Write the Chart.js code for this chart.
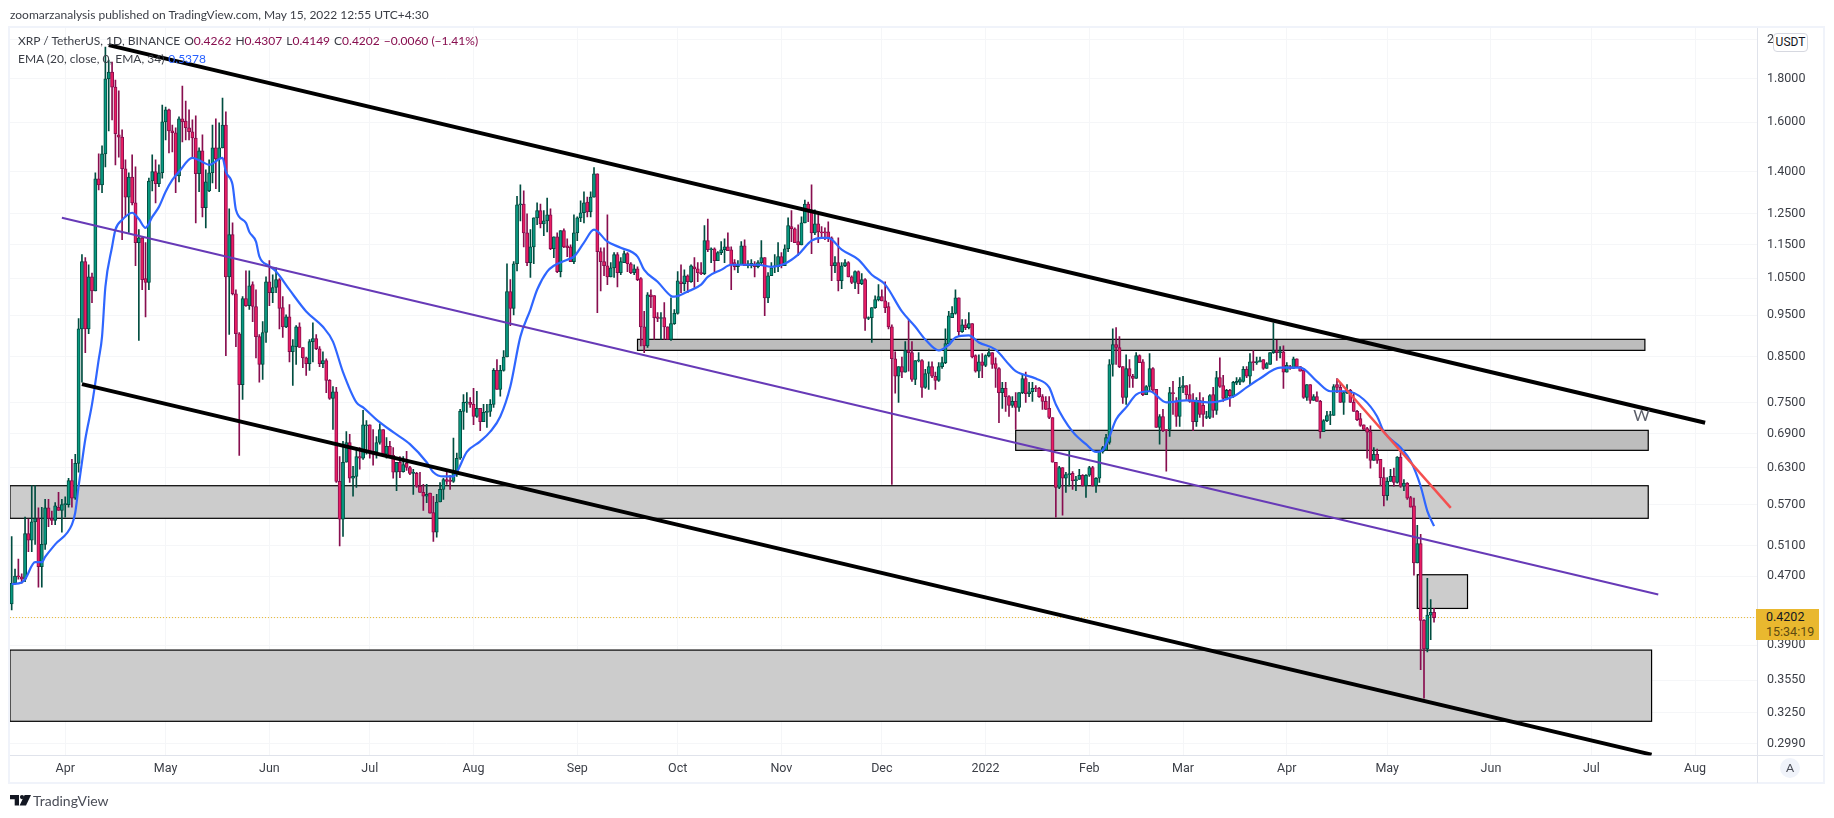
<!DOCTYPE html>
<html><head><meta charset="utf-8">
<script src="https://cdn.jsdelivr.net/npm/chart.js@4"></script>
<style>
html,body{margin:0;padding:0;background:#fff;width:1834px;height:818px;overflow:hidden;font-family:Lato,sans-serif;color:#3b3e46}
canvas{position:absolute;left:0;top:0}
.o{position:absolute;white-space:nowrap}
.r{color:#880e4f}
.g{margin-left:4px}
</style></head><body>
<canvas id="c" width="1834" height="818"></canvas>
<div class="o" style="left:8px;top:26px;width:1817px;height:758px;border:2px solid #f0f3fa;box-sizing:border-box"></div>
<div class="o" style="left:1757px;top:755px;width:66px;height:1px;background:#e0e3eb"></div>
<div class="o" style="left:1757px;top:755px;width:1px;height:28px;background:#e0e3eb"></div>
<div class="o" style="left:10px;top:6px;font-size:12px;line-height:18px;color:#3b3e46">zoomarzanalysis published on TradingView.com, May 15, 2022 12:55 UTC+4:30</div>
<div class="o" style="left:18px;top:32px;font-size:12px;line-height:18px">XRP / TetherUS, 1D, BINANCE<span class="g">O</span><span class="r">0.4262</span><span class="g">H</span><span class="r">0.4307</span><span class="g">L</span><span class="r">0.4149</span><span class="g">C</span><span class="r">0.4202</span><span class="g r">−0.0060 (−1.41%)</span></div>
<div class="o" style="left:18px;top:50px;font-size:12px;line-height:18px">EMA (20, close, 0, EMA, 34)<span class="g" style="color:#2962ff">0.5378</span></div>
<div class="o" style="left:1773px;top:33px;width:35px;height:19px;box-sizing:border-box;border:1px solid #d6d8e0;border-radius:4px;background:#fff;text-align:center;font-size:12px;line-height:17px;color:#131722;font-family:Roboto">USDT</div>
<div class="o" style="left:1756px;top:609px;width:63px;height:31px;background:#e9b82f;font-family:Roboto;font-size:12.5px;line-height:15px;padding:0 0 0 10px;box-sizing:border-box"><div style="color:#131722">0.4202</div><div style="color:#5f4b10">15:34:19</div></div>
<div class="o" style="left:1780px;top:758px;width:20px;height:20px;border-radius:10px;background:#f0f3fa;text-align:center;font-size:12px;line-height:20px;color:#4a4d57">A</div>
<svg class="o" style="left:10px;top:795px" width="21" height="11" viewBox="0 0 21 11"><path d="M0 0h9v10.5H4.7V4.2H0z" fill="#131722"/><circle cx="12" cy="2.1" r="2.1" fill="#131722"/><path d="M14.6 0H21l-5 10.5H9.6z" fill="#131722"/></svg>
<div class="o" style="left:33px;top:791px;font-size:14px;line-height:20px;color:#4a4d57">TradingView</div>
<script>
const firstDay='2021-03-16';
const dayCount=522;
const monthNames={'2021-04-01':'Apr','2021-05-01':'May','2021-06-01':'Jun','2021-07-01':'Jul','2021-08-01':'Aug','2021-09-01':'Sep','2021-10-01':'Oct','2021-11-01':'Nov','2021-12-01':'Dec','2022-01-01':'2022','2022-02-01':'Feb','2022-03-01':'Mar','2022-04-01':'Apr','2022-05-01':'May','2022-06-01':'Jun','2022-07-01':'Jul','2022-08-01':'Aug'};
const priceTicks=[2,1.8,1.6,1.4,1.25,1.15,1.05,.95,.85,.75,.69,.63,.57,.51,.47,.42,.39,.355,.325,.299];
const opens=[
.436,.461,.470,.469,.466,.527,.518,.544,.549,.482,.512,.565,.549,.546,.566,.561,.570,.570,.608,.580,
.637,.916,1.098,.916,1.054,1.015,1.373,1.351,1.469,1.798,1.832,1.759,1.546,1.537,1.411,1.307,1.380,1.287,1.156,1.171,
1.049,1.038,1.365,1.400,1.355,1.396,1.601,1.654,1.563,1.555,1.384,1.614,1.605,1.576,1.559,1.533,1.392,1.481,1.270,1.329,
1.396,1.493,1.449,1.493,1.588,1.054,1.181,1.007,.904,.788,.994,.975,1.032,.973,.897,.832,.907,1.040,1.010,1.024,
1.046,.970,.921,.946,.861,.873,.921,.871,.847,.834,.885,.892,.868,.834,.841,.797,.759,.773,.607,.548,
.639,.674,.612,.615,.649,.646,.705,.707,.658,.657,.674,.698,.653,.667,.651,.622,.639,.623,.637,.630,
.620,.620,.599,.589,.583,.588,.558,.529,.574,.594,.610,.608,.607,.623,.646,.733,.750,.751,.747,.723,
.739,.713,.731,.733,.747,.819,.778,.819,.849,1.013,.968,1.092,1.280,1.283,1.187,1.095,1.143,1.236,1.260,1.216,
1.226,1.246,1.137,1.174,1.069,1.194,1.146,1.143,1.098,1.187,1.236,1.253,1.290,1.256,1.307,1.392,1.128,1.098,1.086,1.054,
1.080,1.119,1.066,1.095,1.122,1.092,1.066,1.077,1.049,.921,.875,1.004,1.002,.946,.942,.944,.921,.890,.929,.955,
1.040,1.035,1.057,1.040,1.083,1.077,1.066,1.063,1.162,1.134,1.137,1.101,1.125,1.134,1.143,1.134,1.095,1.083,1.089,1.146,
1.086,1.086,1.092,1.083,1.095,1.110,.996,1.057,1.083,1.083,1.113,1.086,1.137,1.207,1.200,1.159,1.149,1.219,1.283,1.256,
1.187,1.216,1.190,1.190,1.190,1.171,1.086,1.095,1.043,1.086,1.095,1.054,1.038,1.069,1.035,1.046,.942,.944,.970,.991,
.999,.988,.973,.921,.845,.806,.827,.815,.864,.859,.799,.840,.841,.782,.812,.827,.806,.797,.827,.836,
.880,.944,.955,.996,.909,.926,.919,.929,.852,.817,.838,.830,.852,.859,.834,.823,.771,.780,.763,.745,
.753,.741,.771,.801,.769,.773,.780,.780,.763,.753,.739,.721,.639,.597,.630,.612,.618,.620,.608,.610,
.617,.600,.617,.630,.600,.612,.657,.660,.674,.832,.878,.871,.827,.761,.823,.806,.801,.852,.838,.767,
.784,.823,.778,.702,.723,.698,.698,.771,.753,.723,.782,.786,.767,.753,.713,.755,.745,.721,.721,.767,
.735,.803,.786,.759,.776,.765,.791,.793,.795,.821,.806,.838,.836,.838,.843,.823,.832,.859,.864,.859,
.861,.815,.827,.823,.845,.827,.819,.761,.788,.755,.763,.753,.694,.715,.725,.725,.788,.782,.751,.771,
.776,.751,.733,.719,.707,.700,.694,.642,.653,.644,.613,.584,.607,.615,.605,.648,.599,.604,.581,.568,
.487,.513,.417,.386,.423,.4262];
const closes=[
.461,.470,.469,.466,.527,.518,.544,.549,.482,.512,.565,.549,.546,.568,.561,.570,.571,.608,.580,.637,
.916,1.098,.916,1.054,1.015,1.373,1.351,1.469,1.798,1.832,1.759,1.551,1.537,1.411,1.307,1.380,1.287,1.156,1.171,1.046,
1.038,1.365,1.400,1.355,1.396,1.601,1.654,1.563,1.555,1.384,1.614,1.601,1.576,1.559,1.533,1.392,1.481,1.270,1.362,1.396,
1.493,1.449,1.493,1.588,1.054,1.181,1.007,.904,.788,.994,.975,1.029,.973,.897,.832,.907,1.040,1.010,1.024,1.046,
.968,.921,.946,.861,.875,.921,.871,.847,.834,.885,.892,.868,.834,.841,.797,.759,.773,.607,.548,.639,
.674,.612,.615,.649,.646,.707,.707,.657,.655,.674,.698,.653,.667,.649,.622,.639,.623,.635,.630,.620,
.622,.599,.589,.583,.586,.557,.529,.574,.594,.610,.607,.607,.623,.646,.733,.751,.751,.747,.723,.739,
.713,.731,.733,.747,.819,.778,.819,.849,1.013,.968,1.092,1.280,1.283,1.187,1.095,1.143,1.236,1.260,1.216,1.226,
1.246,1.137,1.174,1.069,1.194,1.143,1.140,1.098,1.187,1.236,1.253,1.287,1.256,1.307,1.392,1.128,1.098,1.086,1.054,1.080,
1.119,1.066,1.098,1.122,1.092,1.066,1.077,1.046,.921,.875,1.004,.999,.944,.942,.944,.921,.890,.929,.955,1.043,
1.035,1.057,1.040,1.086,1.077,1.066,1.063,1.162,1.134,1.137,1.101,1.125,1.134,1.143,1.131,1.089,1.083,1.089,1.146,1.086,
1.092,1.093,1.083,1.095,1.110,.996,1.057,1.080,1.085,1.113,1.086,1.137,1.210,1.200,1.156,1.149,1.219,1.283,1.256,1.187,
1.216,1.190,1.187,1.187,1.171,1.086,1.095,1.043,1.086,1.095,1.054,1.038,1.069,1.035,1.046,.942,.944,.970,.991,.999,
.988,.970,.921,.845,.806,.827,.815,.864,.859,.799,.841,.841,.782,.812,.827,.806,.797,.827,.836,.880,
.949,.955,.996,.909,.926,.919,.929,.849,.817,.838,.830,.852,.859,.832,.823,.771,.780,.763,.745,.753,
.741,.771,.801,.769,.773,.780,.779,.763,.753,.737,.721,.639,.597,.630,.612,.618,.619,.608,.610,.617,
.600,.617,.630,.600,.612,.657,.665,.683,.832,.878,.871,.827,.761,.823,.806,.801,.852,.836,.767,.784,
.823,.776,.702,.723,.696,.696,.771,.769,.723,.782,.786,.767,.753,.713,.755,.727,.727,.722,.765,.735,
.803,.784,.759,.776,.765,.793,.795,.799,.821,.806,.838,.836,.838,.841,.823,.834,.859,.864,.859,.861,
.815,.830,.823,.845,.827,.817,.761,.788,.755,.763,.753,.694,.715,.725,.727,.784,.782,.751,.771,.776,
.751,.733,.717,.706,.698,.693,.642,.653,.642,.613,.584,.607,.615,.605,.648,.599,.604,.580,.566,.487,
.513,.417,.386,.423,.4262,.4202];
const highs=[
.523,.479,.492,.473,.551,.548,.600,.600,.565,.566,.578,.578,.560,.573,.589,.578,.582,.612,.644,.653,
.942,1.119,1.110,1.089,1.065,1.396,1.469,1.501,1.960,1.892,1.882,1.793,1.741,1.567,1.445,1.396,1.465,1.418,1.197,1.174,
1.156,1.376,1.465,1.445,1.426,1.676,1.667,1.658,1.588,1.576,1.623,1.764,1.694,1.654,1.610,1.628,1.493,1.546,1.407,1.445,
1.588,1.614,1.597,1.708,1.645,1.266,1.219,1.018,.907,.999,1.071,1.071,1.040,1.018,.902,.934,1.054,1.101,1.060,1.080,
1.049,.999,.951,.978,.890,.924,.931,.871,.849,.890,.931,.902,.873,.861,.845,.799,.784,.782,.649,.676,
.694,.689,.632,.665,.665,.735,.715,.707,.698,.685,.709,.698,.683,.676,.665,.639,.649,.649,.658,.632,
.627,.622,.622,.602,.602,.588,.583,.586,.605,.612,.622,.617,.682,.655,.737,.767,.771,.761,.780,.774,
.739,.747,.747,.757,.823,.843,.830,.864,1.092,1.046,1.098,1.310,1.351,1.329,1.249,1.197,1.236,1.287,1.283,1.260,
1.304,1.266,1.174,1.187,1.194,1.200,1.168,1.149,1.246,1.239,1.294,1.326,1.307,1.326,1.415,1.392,1.140,1.140,1.246,1.095,
1.125,1.125,1.110,1.131,1.125,1.095,1.089,1.083,1.052,.960,1.010,1.018,1.002,.957,.957,.983,.921,.996,.965,1.069,
1.089,1.074,1.060,1.089,1.110,1.095,1.095,1.210,1.232,1.140,1.140,1.128,1.159,1.168,1.187,1.143,1.104,1.101,1.159,1.165,
1.101,1.104,1.098,1.101,1.162,1.110,1.066,1.095,1.119,1.156,1.125,1.149,1.236,1.260,1.203,1.213,1.239,1.297,1.290,1.351,
1.263,1.246,1.207,1.203,1.223,1.174,1.113,1.171,1.095,1.104,1.098,1.057,1.071,1.071,1.063,1.049,.946,.970,1.001,1.032,
1.018,1.040,.983,.926,.861,.827,.849,.885,.939,.885,.841,.859,.843,.821,.838,.838,.815,.836,.849,.916,
.960,.973,1.018,.996,.939,.939,.957,.929,.854,.854,.857,.854,.868,.859,.847,.825,.793,.793,.765,.763,
.771,.771,.810,.815,.793,.793,.786,.782,.767,.763,.763,.721,.639,.632,.630,.622,.660,.623,.615,.627,
.618,.618,.632,.632,.613,.658,.667,.689,.843,.916,.919,.897,.827,.854,.843,.810,.859,.854,.843,.786,
.857,.825,.778,.727,.737,.698,.782,.795,.761,.803,.806,.786,.788,.769,.761,.771,.761,.733,.767,.782,
.817,.847,.808,.778,.778,.795,.803,.803,.827,.827,.857,.864,.849,.849,.843,.836,.859,.931,.888,.873,
.875,.836,.830,.849,.845,.827,.823,.788,.788,.767,.773,.755,.717,.733,.733,.788,.801,.791,.773,.788,
.778,.771,.735,.729,.707,.702,.705,.665,.662,.644,.630,.613,.627,.629,.649,.658,.610,.605,.583,.580,
.539,.526,.418,.467,.441,.4307];
const lows=[
.429,.460,.466,.461,.463,.502,.502,.512,.456,.456,.505,.537,.540,.540,.561,.529,.551,.566,.566,.578,
.622,.793,.859,.904,.983,1.015,1.333,1.323,1.418,1.563,1.610,1.426,1.456,1.165,1.239,1.188,1.280,1.086,.888,1.018,
.946,1.018,1.329,1.287,1.344,1.376,1.525,1.473,1.477,1.323,1.362,1.517,1.525,1.525,1.456,1.219,1.326,1.239,1.203,1.326,
1.358,1.337,1.326,1.493,.852,.902,1.004,.873,.651,.757,.973,.965,.934,.847,.793,.799,.883,.975,.983,1.010,
.916,.895,.919,.838,.786,.832,.871,.825,.808,.819,.838,.866,.827,.825,.771,.757,.698,.605,.510,.523,
.639,.605,.583,.597,.627,.644,.653,.646,.634,.646,.671,.649,.646,.648,.612,.592,.613,.622,.625,.618,
.586,.597,.589,.561,.573,.557,.516,.522,.574,.578,.602,.594,.605,.615,.644,.698,.731,.741,.707,.721,
.696,.713,.702,.723,.741,.778,.764,.817,.849,.924,.951,1.071,1.226,1.143,1.086,1.052,1.092,1.213,1.203,1.178,
1.190,1.134,1.110,1.066,1.054,1.140,1.113,1.098,1.092,1.162,1.223,1.219,1.239,1.239,1.307,.957,1.015,1.057,1.032,1.054,
1.052,1.026,1.060,1.095,1.069,1.063,1.060,1.043,.875,.859,.871,.970,.890,.934,.890,.890,.890,.888,.927,.953,
1.010,1.015,1.010,1.038,1.024,1.040,1.060,1.060,1.128,1.095,1.066,1.101,1.119,1.095,1.131,1.018,1.074,1.066,1.089,1.086,
1.080,1.080,1.054,1.080,1.089,.949,.983,1.057,1.066,1.069,1.080,1.086,1.128,1.159,1.156,1.116,1.149,1.219,1.223,1.122,
1.181,1.156,1.171,1.165,1.159,1.043,1.066,1.015,1.021,1.083,1.054,1.035,1.021,1.007,1.032,.912,.939,.883,.968,.988,
.988,.957,.916,.602,.770,.751,.803,.815,.817,.795,.788,.838,.761,.780,.778,.803,.778,.795,.823,.834,
.880,.944,.953,.897,.907,.914,.916,.847,.815,.803,.803,.827,.849,.823,.782,.711,.739,.733,.723,.741,
.698,.733,.769,.751,.763,.753,.773,.761,.737,.737,.719,.639,.551,.595,.554,.589,.599,.594,.592,.610,
.599,.581,.615,.599,.589,.605,.655,.660,.671,.806,.832,.825,.749,.747,.782,.782,.801,.836,.765,.767,
.773,.773,.702,.671,.694,.624,.685,.727,.704,.704,.771,.757,.751,.696,.704,.721,.704,.719,.719,.721,
.727,.782,.753,.757,.743,.761,.788,.788,.793,.803,.788,.819,.832,.838,.821,.823,.832,.857,.841,.847,
.780,.815,.821,.823,.827,.817,.759,.755,.749,.755,.753,.682,.694,.713,.707,.725,.771,.751,.727,.769,
.751,.733,.715,.704,.698,.646,.629,.642,.637,.600,.568,.577,.607,.599,.604,.597,.592,.578,.566,.471,
.487,.365,.338,.383,.396,.4149];
// EMA read at sampled candles (candle index counted from firstDay)
const emaIndex=[0,3,4,7,9,10,13,18,19,20,21,22,24,26,27,28,30,31,33,36,38,40,42,44,46,48,50,54,57,59,
63,64,66,67,70,71,73,74,77,79,83,88,93,96,99,103,105,109,114,119,
124,126,129,132,133,136,140,143,146,149,152,155,157,160,162,166,168,171,174,178,
182,187,189,193,197,198,202,206,208,212,215,223,227,231,235,239,242,244,248,253,
257,261,266,270,273,277,280,282,286,289,294,298,300,306,310,312,317,321,324,326,
328,330,333,336,340,345,351,358,365,369,373,379,385,390,394,399,404,408,410,415,
418,421,423,425];
const emaValues=[.460,.462,.466,.488,.488,.495,.512,.540,.558,.599,.639,.680,.747,.843,.897,1.026,1.143,1.197,1.229,1.253,1.232,1.203,1.239,1.273,1.326,1.369,1.400,1.453,1.437,1.426,
1.453,1.400,1.351,1.263,1.219,1.190,1.159,1.114,1.085,1.069,1.018,.960,.921,.885,.815,.751,.741,.717,.693,.671,
.639,.622,.615,.615,.622,.657,.676,.694,.723,.784,.897,.965,1.018,1.069,1.086,1.104,1.113,1.156,1.197,1.159,
1.140,1.113,1.074,1.040,1.001,.999,1.013,1.032,1.054,1.074,1.089,1.089,1.083,1.092,1.119,1.162,1.171,1.171,1.134,1.104,
1.060,1.032,.960,.921,.890,.864,.877,.895,.900,.883,.866,.832,.817,.801,.782,.747,.694,.671,.657,.660,
.685,.717,.741,.767,.774,.751,.755,.751,.763,.782,.801,.825,.825,.795,.774,.774,.757,.723,.694,.665,
.641,.599,.560,.5378];
const channelTop={from:[29,1.970],to:[506,.711]};
const channelBottom={from:[21,.789],to:[490,.2903]};
const channelMiddle={from:[15,1.236],to:[492,.4473]};
const redTrend={from:[396,.800],to:[430,.565]};
const zoneBoxes=[[187,488,.8904,.8643,'#bdbdbd'],[300,489,.6965,.6599,'#bdbdbd'],[-.5,489,.5998,.5493,'#cccccc'],[-.5,490,.3849,.3176,'#cccccc'],[420,435,.4717,.4307,'#cccccc']];
const textNote={index:487,price:.724,text:'W'};
const yMin=.2896,yMax=2.063;
const UP='#089981',DOWN='#e91e63',UPD='#004d40',DOWND='#880e4f';

const labels=[];
{const t=new Date(firstDay+'T00:00:00Z');for(let i=0;i<dayCount;i++){labels.push(new Date(t.getTime()+i*864e5).toISOString().slice(0,10));}}
const isUp=i=>closes[i]>=opens[i];
const wicks=highs.map((h,i)=>[lows[i],h]);
const bodies=opens.map((o,i)=>[o,closes[i]]);
const ema=new Array(dayCount).fill(null);emaIndex.forEach((k,i)=>{ema[k]=emaValues[i];});
const seg=s=>{const a=new Array(dayCount).fill(null);a[s.from[0]]=s.from[1];a[s.to[0]]=s.to[1];return a;};
const lineDs=(data,color,w,order)=>({type:'line',data,borderColor:color,borderWidth:w,pointRadius:0,spanGaps:true,order,tension:0,borderCapStyle:'butt'});
const overlay={id:'overlay',
 beforeDatasetsDraw(ch){const {ctx,scales:{x,y},chartArea:a}=ch;ctx.save();ctx.beginPath();ctx.rect(a.left,a.top,a.width,a.height);ctx.clip();
  zoneBoxes.forEach(b=>{const l=x.getPixelForValue(b[0]),r=x.getPixelForValue(b[1]),t=y.getPixelForValue(b[2]),u=y.getPixelForValue(b[3]);
   ctx.fillStyle=b[4];ctx.fillRect(l,t,r-l,u-t);ctx.strokeStyle='#000';ctx.lineWidth=1.2;ctx.strokeRect(l,t,r-l,u-t);});
  const py=y.getPixelForValue(closes[closes.length-1]);ctx.strokeStyle='#e9b82f';ctx.lineWidth=1;ctx.setLineDash([1,2]);ctx.beginPath();ctx.moveTo(a.left,py);ctx.lineTo(a.right,py);ctx.stroke();ctx.restore();},
 afterDatasetsDraw(ch){const {ctx,scales:{x,y}}=ch;ctx.save();ctx.fillStyle='#5d606b';ctx.font='16px Lato';ctx.textAlign='center';ctx.textBaseline='middle';ctx.fillText(textNote.text,x.getPixelForValue(textNote.index),y.getPixelForValue(textNote.price));ctx.restore();}
};
new Chart(document.getElementById('c'),{
 data:{labels,datasets:[
  lineDs(seg(channelTop),'#000',4,1),
  lineDs(seg(channelBottom),'#000',4,1),
  lineDs(seg(channelMiddle),'#673ab7',2,2),
  lineDs(seg(redTrend),'#f44f4f',2.5,2),
  Object.assign(lineDs(ema,'#2f66ff',2.2,3),{cubicInterpolationMode:'monotone'}),
  {type:'bar',data:bodies,grouped:false,barThickness:3.2,borderWidth:1,borderSkipped:false,minBarLength:1,order:4,
   backgroundColor:c=>isUp(c.dataIndex)?UP:DOWN,borderColor:c=>isUp(c.dataIndex)?UPD:DOWND},
  {type:'bar',data:wicks,grouped:false,barThickness:1,borderWidth:0,order:5,
   backgroundColor:c=>isUp(c.dataIndex)?UPD:DOWND}
 ]},
 options:{responsive:false,animation:false,devicePixelRatio:1,
  layout:{autoPadding:false,padding:{left:10,top:28,right:11,bottom:35}},
  plugins:{legend:{display:false},tooltip:{enabled:false}},
  scales:{
   x:{type:'category',offset:true,afterFit(s){s.height=27.5;},
    grid:{offset:false,drawTicks:false,color:c=>(c.tick&&monthNames[labels[c.tick.value]])?'#f5f6f8':'rgba(0,0,0,0)'},
    border:{color:'#e0e3eb'},
    ticks:{autoSkip:false,maxRotation:0,minRotation:0,padding:6,color:'#3b3e46',font:{family:'Roboto',size:12.5},
     callback(v){return monthNames[labels[v]]||null;}}},
   y:{type:'logarithmic',position:'right',min:yMin,max:yMax,afterFit(s){s.width=66;},
    afterBuildTicks(s){s.ticks=priceTicks.map(v=>({value:v}));},
    grid:{drawTicks:false,color:'#f5f6f8'},border:{color:'#e0e3eb'},
    ticks:{padding:10,color:'#3b3e46',font:{family:'Roboto',size:12.5},callback(v){return Number(v).toFixed(4);}}}
  }},
 plugins:[overlay]
});
</script>
</body></html>
